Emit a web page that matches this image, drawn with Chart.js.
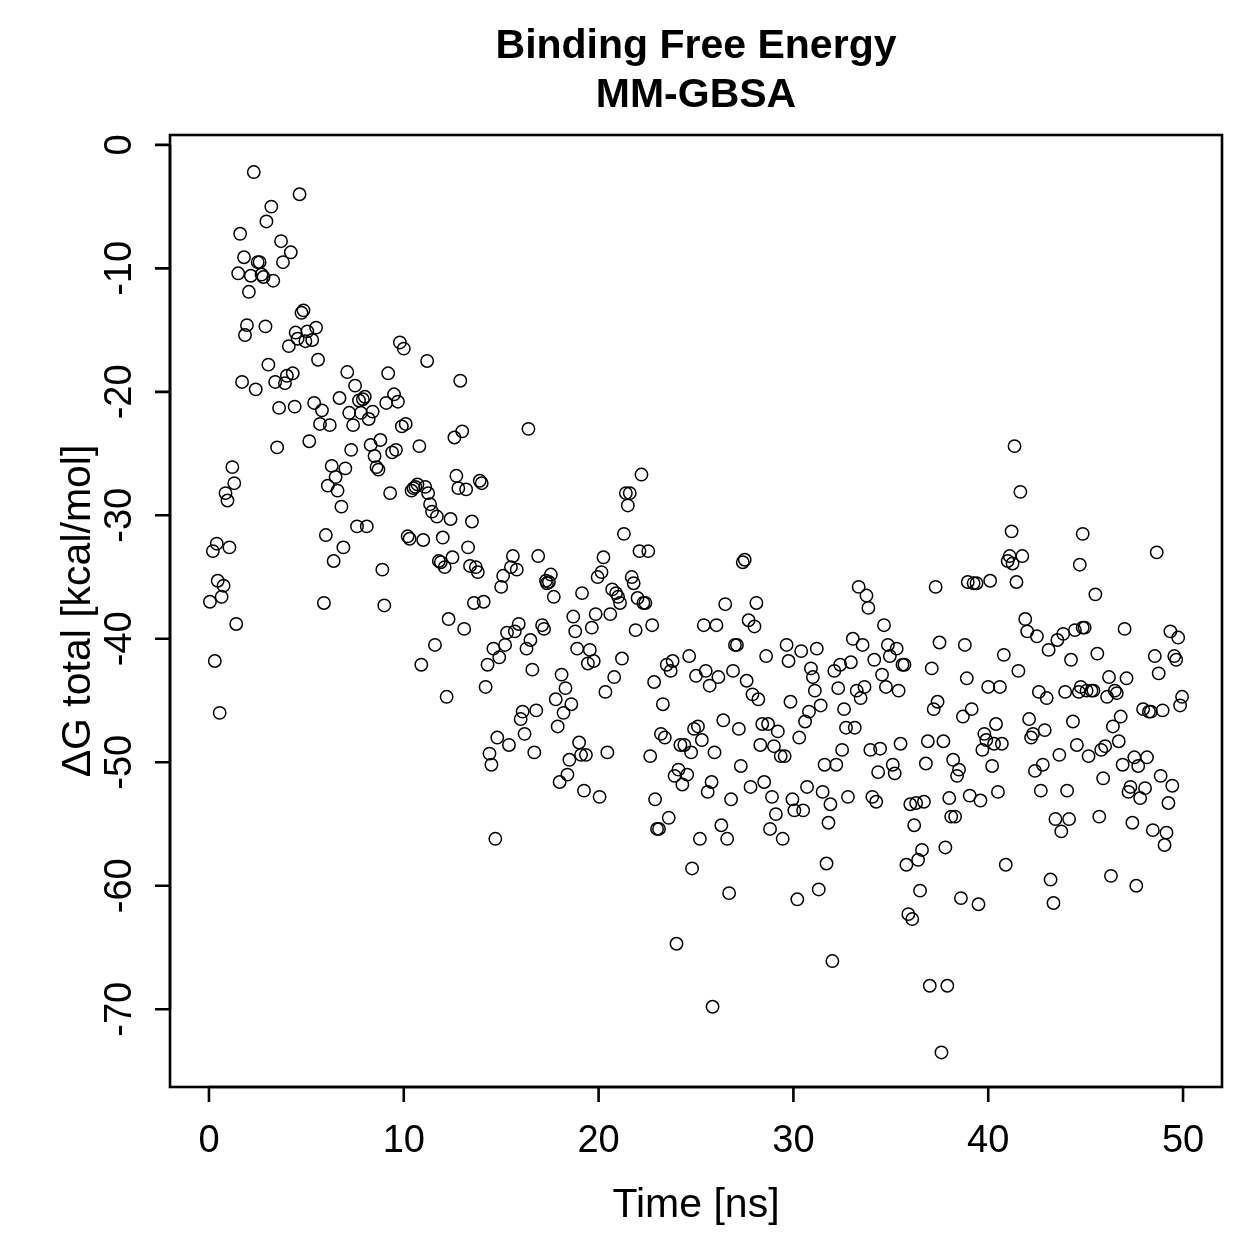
<!DOCTYPE html>
<html>
<head>
<meta charset="utf-8">
<script src="https://cdn.jsdelivr.net/npm/chart.js@4.4.1/dist/chart.umd.min.js"></script>
<style>
  html, body { margin: 0; padding: 0; background: #fff; }
  #wrap { width: 1259px; height: 1259px; }
</style>
</head>
<body>
<div id="wrap"><canvas id="c" width="1259" height="1259"></canvas></div>
<script>
const chartTitle = ["Binding Free Energy", "MM-GBSA"];
const xLabel = "Time [ns]";
const yLabel = "\u0394G total [kcal/mol]";
const xTicks = [0, 10, 20, 30, 40, 50];
const yTicks = [0, -10, -20, -30, -40, -50, -60, -70];

const timeNs = [
0.05,0.2,0.3,0.4,0.45,0.55,0.65,0.75,0.85,0.95,
1.05,1.2,1.3,1.4,1.5,1.6,1.7,1.8,1.85,1.95,
2.05,2.15,2.3,2.4,2.5,2.6,2.7,2.8,2.9,2.95,
3.05,3.2,3.3,3.4,3.5,3.6,3.7,3.8,3.9,4.0,
4.1,4.2,4.3,4.4,4.45,4.55,4.65,4.75,4.85,4.95,
5.05,5.15,5.3,5.4,5.5,5.6,5.7,5.8,5.9,6.0,
6.1,6.2,6.3,6.4,6.5,6.6,6.7,6.8,6.9,7.0,
7.1,7.2,7.3,7.4,7.5,7.6,7.7,7.8,7.9,8.0,
8.1,8.2,8.3,8.4,8.5,8.6,8.7,8.8,8.9,9.0,
9.1,9.2,9.3,9.4,9.5,9.6,9.7,9.8,9.9,10.0,
10.1,10.2,10.3,10.4,10.5,10.6,10.7,10.8,10.9,11.0,
11.1,11.2,11.25,11.35,11.45,11.6,11.7,11.8,11.9,12.0,
12.1,12.2,12.3,12.4,12.5,12.6,12.7,12.8,12.9,13.0,
13.1,13.2,13.3,13.4,13.5,13.6,13.7,13.8,13.9,14.0,
14.1,14.2,14.3,14.4,14.5,14.6,14.7,14.8,14.9,15.0,
15.1,15.2,15.3,15.4,15.5,15.6,15.7,15.8,15.9,16.0,
16.1,16.2,16.3,16.4,16.5,16.6,16.7,16.8,16.9,17.1,
17.2,17.3,17.35,17.45,17.55,17.7,17.8,17.9,18.0,18.1,
18.2,18.3,18.4,18.5,18.6,18.7,18.8,18.9,19.0,19.1,
19.15,19.25,19.35,19.45,19.55,19.65,19.75,19.85,19.95,20.05,
20.15,20.25,20.35,20.45,20.6,20.7,20.8,20.9,21.0,21.1,
21.2,21.3,21.4,21.5,21.6,21.7,21.8,21.9,22.0,22.1,
22.2,22.3,22.4,22.55,22.65,22.75,22.85,22.9,23.0,23.1,
23.2,23.3,23.4,23.5,23.6,23.7,23.8,23.9,24.0,24.1,
24.2,24.3,24.4,24.55,24.65,24.75,24.8,24.9,25.0,25.1,
25.2,25.3,25.4,25.5,25.6,25.7,25.8,25.85,25.95,26.05,
26.15,26.3,26.4,26.5,26.6,26.7,26.8,26.9,27.0,27.1,
27.2,27.3,27.4,27.5,27.6,27.7,27.8,27.9,28.0,28.1,
28.2,28.3,28.4,28.5,28.6,28.7,28.8,28.9,29.0,29.1,
29.2,29.35,29.45,29.55,29.65,29.75,29.85,29.95,30.05,30.2,
30.3,30.4,30.5,30.6,30.7,30.8,30.9,31.0,31.1,31.2,
31.3,31.4,31.5,31.6,31.7,31.8,31.9,32.0,32.1,32.2,
32.3,32.4,32.5,32.6,32.7,32.8,32.95,33.05,33.15,33.25,
33.35,33.45,33.55,33.65,33.75,33.85,33.95,34.05,34.15,34.25,
34.35,34.45,34.55,34.65,34.75,34.85,34.95,35.1,35.2,35.3,
35.4,35.5,35.6,35.7,35.8,35.9,36.0,36.1,36.2,36.3,
36.4,36.5,36.6,36.7,36.8,36.9,37.0,37.1,37.2,37.3,
37.4,37.5,37.6,37.7,37.8,37.9,38.0,38.1,38.2,38.3,
38.4,38.5,38.6,38.7,38.8,38.9,38.95,39.05,39.15,39.25,
39.4,39.5,39.6,39.7,39.8,39.9,40.0,40.1,40.2,40.3,
40.4,40.5,40.6,40.7,40.8,40.9,41.0,41.1,41.2,41.25,
41.35,41.45,41.55,41.65,41.75,41.9,42.0,42.1,42.2,42.3,
42.4,42.5,42.6,42.7,42.8,42.9,43.0,43.1,43.2,43.35,
43.45,43.55,43.65,43.75,43.85,43.95,44.05,44.15,44.25,44.35,
44.45,44.55,44.65,44.75,44.85,44.85,44.95,45.05,45.15,45.3,
45.4,45.5,45.6,45.7,45.8,45.9,46.0,46.1,46.2,46.3,
46.4,46.5,46.6,46.7,46.8,46.9,47.0,47.1,47.2,47.3,
47.4,47.5,47.6,47.7,47.8,47.95,48.05,48.15,48.25,48.35,
48.45,48.55,48.65,48.75,48.85,48.95,49.05,49.15,49.25,49.35,
49.45,49.55,49.65,49.75,49.85,49.95,44.7
];

const deltaG = [
-37.0,-32.9,-41.8,-32.3,-35.3,-46.0,-36.6,-35.7,-28.2,-28.8,
-32.6,-26.1,-27.4,-38.8,-10.4,-7.2,-19.2,-9.1,-15.4,-14.6,
-11.9,-10.6,-2.2,-19.8,-9.5,-9.5,-10.5,-10.7,-14.7,-6.2,
-17.8,-5.0,-11.0,-19.2,-24.5,-21.3,-7.8,-9.5,-19.3,-18.7,
-16.3,-8.7,-18.5,-21.2,-15.2,-15.7,-4.0,-13.6,-13.4,-15.9,
-15.1,-24.0,-15.8,-20.9,-14.8,-17.4,-22.6,-21.5,-37.1,-31.6,
-27.6,-22.7,-26.0,-33.7,-26.9,-28.0,-20.5,-29.3,-32.6,-26.2,
-18.4,-21.7,-24.7,-22.7,-19.5,-30.9,-20.7,-21.7,-20.6,-20.4,
-30.9,-22.2,-24.3,-21.6,-25.2,-26.1,-26.3,-23.9,-34.4,-37.3,
-20.9,-18.5,-28.2,-24.9,-20.2,-24.7,-20.8,-16.0,-22.8,-16.5,
-22.6,-31.7,-31.9,-28.0,-27.8,-27.7,-27.5,-24.4,-42.1,-32.0,
-27.7,-17.5,-28.2,-29.1,-29.7,-40.5,-30.1,-33.7,-33.8,-31.8,
-34.2,-44.7,-38.4,-30.3,-33.4,-23.7,-26.8,-27.8,-19.1,-23.2,
-39.2,-27.9,-32.6,-34.1,-30.5,-37.1,-34.2,-34.6,-27.2,-27.4,
-37.0,-43.9,-42.1,-49.3,-50.2,-40.8,-56.2,-48.0,-41.5,-35.8,
-34.9,-40.5,-39.5,-48.6,-34.2,-33.3,-39.4,-34.4,-38.8,-46.5,
-45.9,-47.7,-40.8,-23.0,-40.1,-42.5,-49.2,-45.8,-33.3,-38.9,
-39.2,-35.3,-35.5,-35.4,-34.8,-36.6,-44.9,-47.1,-51.6,-42.9,
-46.0,-44.0,-51.0,-49.8,-45.3,-38.2,-39.4,-40.8,-48.4,-49.4,
-36.3,-52.3,-49.4,-42.0,-40.9,-39.1,-41.8,-38.0,-35.0,-52.8,
-34.6,-33.4,-44.3,-49.2,-38.0,-36.0,-43.1,-36.3,-36.6,-37.1,
-41.6,-31.5,-28.2,-29.2,-28.2,-35.0,-35.5,-39.3,-36.7,-32.9,
-26.7,-37.1,-37.1,-32.9,-49.5,-38.9,-43.5,-53.0,-55.4,-55.4,
-47.7,-45.3,-48.0,-42.1,-54.5,-42.6,-41.8,-51.1,-64.7,-50.6,
-48.6,-51.8,-48.6,-51.0,-41.4,-49.2,-58.6,-47.3,-43.0,-47.1,
-56.2,-48.2,-38.9,-42.6,-52.4,-43.8,-51.6,-69.8,-49.2,-38.9,
-43.1,-55.1,-46.6,-37.2,-56.2,-60.6,-53.0,-42.6,-40.5,-40.5,
-47.3,-50.3,-33.8,-33.6,-43.4,-38.5,-52.0,-44.5,-39.0,-37.1,
-44.9,-48.6,-46.9,-51.6,-41.4,-46.9,-55.4,-52.8,-48.7,-54.2,
-47.5,-49.5,-56.2,-49.5,-40.5,-41.8,-45.1,-53.0,-53.9,-61.1,
-48.0,-41.0,-53.9,-46.7,-52.0,-45.9,-42.4,-43.1,-44.2,-40.8,
-60.3,-45.4,-52.4,-50.2,-58.2,-54.9,-53.4,-66.1,-42.6,-50.2,
-44.0,-42.1,-49.0,-45.7,-47.2,-52.8,-41.9,-40.0,-47.2,-44.2,
-35.8,-44.8,-40.5,-43.9,-36.5,-37.5,-49.0,-52.8,-41.7,-53.2,
-50.8,-48.9,-42.9,-38.9,-43.9,-40.5,-41.4,-50.2,-50.9,-40.8,
-44.2,-48.5,-42.1,-42.1,-58.3,-62.3,-53.4,-62.7,-55.1,-53.3,
-57.9,-60.4,-57.1,-53.2,-50.1,-48.3,-68.1,-42.4,-45.7,-35.8,
-45.1,-40.3,-73.5,-48.3,-56.9,-68.1,-52.9,-54.4,-49.8,-54.4,
-51.1,-50.6,-61.0,-46.3,-40.5,-43.2,-35.4,-52.7,-45.7,-35.5,
-35.5,-61.5,-53.1,-49.0,-47.7,-48.2,-43.9,-35.3,-50.3,-48.5,
-46.9,-52.4,-43.9,-48.5,-41.3,-58.3,-33.7,-33.3,-31.3,-33.9,
-24.4,-35.4,-42.6,-28.1,-33.3,-38.4,-39.4,-46.5,-48.0,-47.7,
-50.7,-39.8,-44.3,-52.3,-50.2,-47.4,-44.8,-40.9,-59.5,-61.4,
-54.6,-40.1,-49.4,-55.6,-39.6,-44.3,-52.3,-54.6,-41.7,-46.7,
-39.3,-48.6,-44.3,-43.9,-39.1,-31.5,-39.1,-44.2,-49.5,-44.2,
-44.2,-36.4,-41.2,-54.4,-49.0,-51.3,-48.7,-44.7,-43.1,-59.2,
-47.1,-44.2,-44.4,-48.3,-46.3,-50.2,-39.2,-43.2,-52.4,-52.0,
-54.9,-49.6,-60.0,-50.3,-52.9,-45.7,-52.1,-49.6,-45.9,-45.9,
-55.5,-41.4,-33.0,-42.8,-51.1,-45.8,-56.7,-55.7,-53.3,-39.4,
-51.9,-41.4,-41.7,-39.9,-45.4,-44.7,-34.0
];

const n = Math.min(timeNs.length, deltaG.length);
const points = [];
for (let i = 0; i < n; i++) points.push({ x: timeNs[i], y: deltaG[i] });

const FONT = '"Liberation Sans", Arial, Helvetica, sans-serif';
const TICK_PX = 38;
const LAB_PX = 41;
const TITLE_PX = 41;

const rAxes = {
  id: 'rAxes',
  afterDraw(chart) {
    const ctx = chart.ctx;
    const a = chart.chartArea;
    const xs = chart.scales.x, ys = chart.scales.y;
    ctx.save();
    ctx.strokeStyle = '#000';
    ctx.fillStyle = '#000';
    ctx.lineWidth = 2.6;
    ctx.lineCap = 'butt';
    ctx.strokeRect(a.left, a.top, a.right - a.left, a.bottom - a.top);

    const tick = 15;
    // x axis
    ctx.beginPath();
    ctx.moveTo(xs.getPixelForValue(xTicks[0]), a.bottom);
    ctx.lineTo(xs.getPixelForValue(xTicks[xTicks.length - 1]), a.bottom);
    xTicks.forEach(v => {
      const p = xs.getPixelForValue(v);
      ctx.moveTo(p, a.bottom);
      ctx.lineTo(p, a.bottom + tick);
    });
    ctx.stroke();
    ctx.font = TICK_PX + 'px ' + FONT;
    ctx.textAlign = 'center';
    ctx.textBaseline = 'alphabetic';
    xTicks.forEach(v => ctx.fillText(String(v), xs.getPixelForValue(v), a.bottom + 65));

    // y axis
    ctx.beginPath();
    ctx.moveTo(a.left, ys.getPixelForValue(yTicks[0]));
    ctx.lineTo(a.left, ys.getPixelForValue(yTicks[yTicks.length - 1]));
    yTicks.forEach(v => {
      const p = ys.getPixelForValue(v);
      ctx.moveTo(a.left, p);
      ctx.lineTo(a.left - tick, p);
    });
    ctx.stroke();
    yTicks.forEach(v => {
      const p = ys.getPixelForValue(v);
      ctx.save();
      ctx.translate(a.left - 39, p);
      ctx.rotate(-Math.PI / 2);
      ctx.fillText(String(v), 0, 0);
      ctx.restore();
    });

    // axis titles
    const cx = (a.left + a.right) / 2;
    const cy = (a.top + a.bottom) / 2;
    ctx.font = LAB_PX + 'px ' + FONT;
    ctx.fillText(xLabel, cx, 1217);
    ctx.save();
    ctx.translate(90, cy);
    ctx.rotate(-Math.PI / 2);
    ctx.fillText(yLabel, 0, 0);
    ctx.restore();

    // main title
    ctx.font = 'bold ' + TITLE_PX + 'px ' + FONT;
    ctx.fillText(chartTitle[0], cx, 58);
    ctx.fillText(chartTitle[1], cx, 107);
    ctx.restore();
  }
};

new Chart(document.getElementById('c'), {
  type: 'scatter',
  data: {
    datasets: [{
      data: points,
      pointStyle: 'circle',
      pointRadius: 6.2,
      pointHoverRadius: 6.2,
      borderWidth: 1.5,
      borderColor: '#000',
      backgroundColor: 'rgba(0,0,0,0)'
    }]
  },
  options: {
    responsive: false,
    animation: false,
    events: [],
    layout: { padding: { left: 170, right: 37, top: 135, bottom: 172 } },
    plugins: { legend: { display: false }, title: { display: false }, tooltip: { enabled: false } },
    scales: {
      x: { type: 'linear', min: -2, max: 52, display: false },
      y: { type: 'linear', min: -76.3, max: 0.8, display: false }
    }
  },
  plugins: [rAxes]
});
</script>
</body>
</html>
